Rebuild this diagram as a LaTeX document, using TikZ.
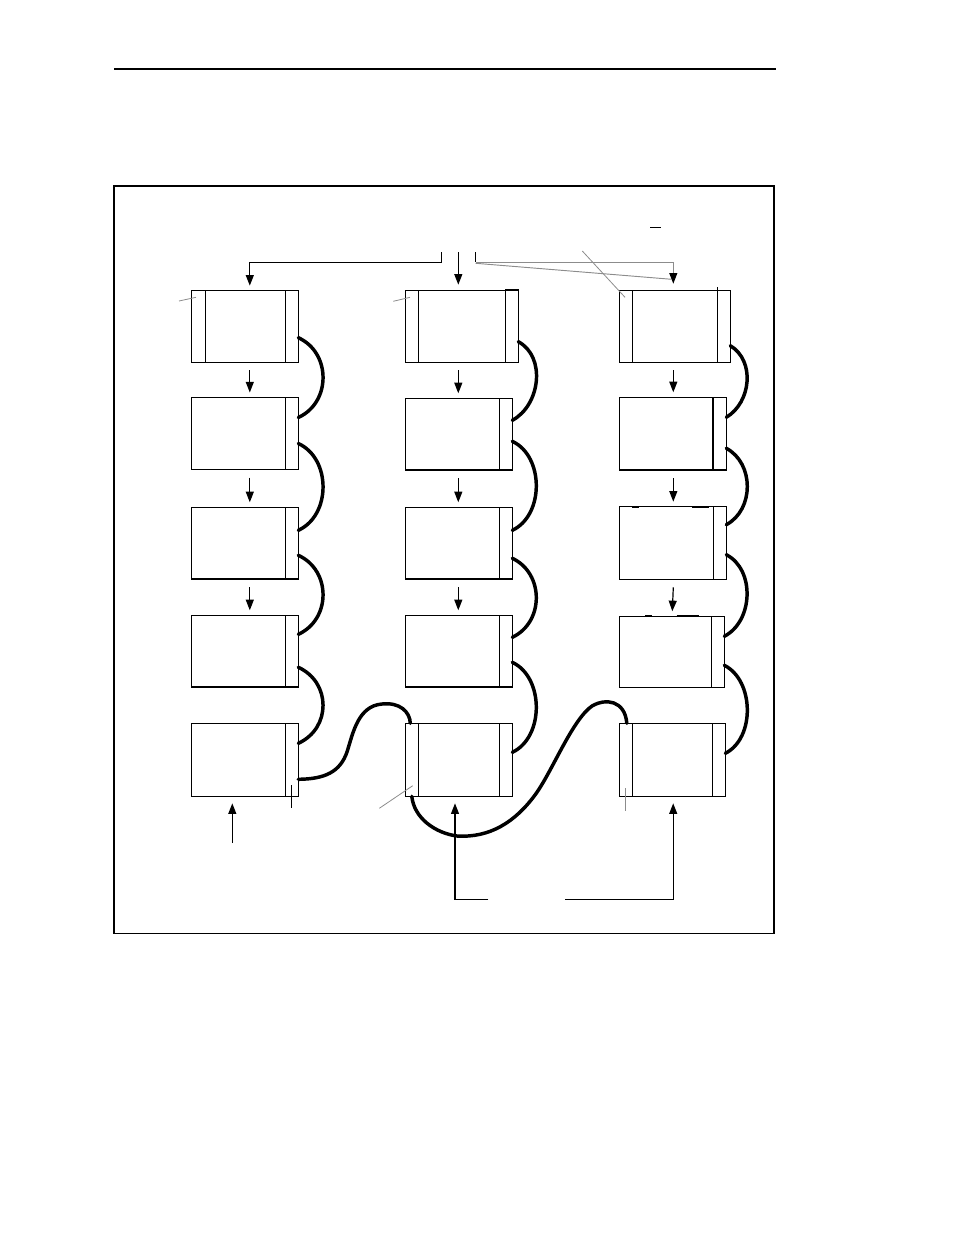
\documentclass[tikz,border=0pt]{standalone}
\usetikzlibrary{calc,fit,arrows.meta}
\begin{document}
\begin{tikzpicture}[x=0.75pt,y=-0.75pt,
  box/.style={draw, line width=0.9pt, inner sep=0pt, outer sep=0pt, rectangle},
  thinl/.style={line width=0.9pt},
  arr/.style={-{Triangle[length=8pt,width=6pt,color=black]}, line width=0.9pt},
  cable/.style={line width=2.6pt, line cap=round},
  lead/.style={line width=0.6pt, draw=black!45},
  grayl/.style={line width=0.7pt, draw=black!45}]
\useasboundingbox (0,0) rectangle (954,1235);
\newcommand\rstrip[2]{\draw[thinl] ($(#1.north east)+(-#2,0)$) -- ($(#1.south east)+(-#2,0)$);}
\newcommand\lstrip[2]{\draw[thinl] ($(#1.north west)+(#2,0)$) -- ($(#1.south west)+(#2,0)$);}
\newcommand\loopc[5]{\draw[cable] ($(#1.north east)+(0,#2)$) .. controls +(#5,15) and +(#5,-15) .. ($(#3.north east)+(0,#4)$);}
% page rule and frame
\draw[line width=0.8pt] (114,69) -- (776,69);
\draw[line width=1.1pt] (114,186) rectangle (774,933.3);
% column 1
\node[box, fit={(191.3,290.7) (298.3,362.3)}] (b11) {};
\node[box, fit={(191.3,397.5) (298.3,469.5)}] (b12) {};
\node[box, fit={(191.3,507.3) (298.3,579)}] (b13) {};
\node[box, fit={(191.3,615.3) (298.3,687)}] (b14) {};
\node[box, fit={(191.3,723.3) (298.3,796.3)}] (b15) {};
% column 2
\node[box, fit={(405.3,290.7) (518.3,362.3)}] (b21) {};
\node[box, fit={(405.3,398.3) (512.3,470)}] (b22) {};
\node[box, fit={(405.3,507.3) (512.3,579)}] (b23) {};
\node[box, fit={(405.3,615.3) (512.3,687)}] (b24) {};
\node[box, fit={(405.3,723.3) (512.3,796.3)}] (b25) {};
% column 3
\node[box, fit={(619.3,290.7) (730.3,362.3)}] (b31) {};
\node[box, fit={(619.3,397.3) (726.3,470)}] (b32) {};
\node[box, fit={(619.3,506.7) (726.3,579.3)}] (b33) {};
\node[box, fit={(619.3,616.3) (724.3,687.3)}] (b34) {};
\node[box, fit={(619.3,723.3) (725.3,796.3)}] (b35) {};
% strips
\lstrip{b11}{14} \rstrip{b11}{13}
\rstrip{b12}{13} \rstrip{b13}{13} \rstrip{b14}{13} \rstrip{b15}{13}
\lstrip{b21}{13}
\draw[thinl] (505.3,289.3) rectangle (518.3,362.3);
\rstrip{b22}{13} \rstrip{b23}{13} \rstrip{b24}{13}
\lstrip{b25}{13} \rstrip{b25}{13}
\lstrip{b31}{13}
\draw[thinl] (717.3,287) -- (717.3,362.3);
\draw[line width=1.7pt] ($(b32.north east)+(-13,0)$) -- ($(b32.south east)+(-13,0)$);
\rstrip{b33}{13} \rstrip{b34}{13}
\lstrip{b35}{13} \rstrip{b35}{13}
% small marks on box edges
\draw[line width=1.6pt] (632.3,506.7) -- (639,506.7) (692.3,506.7) -- (709,506.7);
\draw[line width=1.6pt] (645,616.3) -- (651.7,616.3) (676.7,616.3) -- (699,616.3);
\draw[line width=1.4pt] (238.3,469.5) -- (241.7,469.5);
% down arrows between boxes
\foreach \a/\b in {b11/b12,b12/b13,b13/b14}
  \draw[arr] ($(\a.south)+(5,8)$) -- ($(\b.north)+(5,-5)$);
\draw[arr] ($(b21.south)+(-3.5,8)$) -- ($(b22.north)+(-0.5,-5)$);
\foreach \a/\b in {b22/b23,b23/b24}
  \draw[arr] ($(\a.south)+(-0.5,8)$) -- ($(\b.north)+(-0.5,-5)$);
\draw[arr] ($(b31.south)+(-1.5,8)$) -- ($(b32.north)+(0.5,-5)$);
\foreach \a/\b in {b32/b33,b33/b34}
  \draw[arr] ($(\a.south)+(0.5,8)$) -- ($(\b.north)+(0.5,-5)$);
% top distribution
\coordinate (s1) at (441.3,252);
\coordinate (s2) at (458.3,252);
\coordinate (s3) at (475.7,252);
\draw[arr] (s1) -- ++(0,10.3) -| ($(b11.north)+(5,-5)$);
\draw[arr] (s2) -- ($(s2 |- b21.north)+(0,-6)$);
\draw[thinl] (s3) -- ++(0,10.3) coordinate (s3b);
\draw[grayl] (s3b) -- (673.3,262.3) coordinate (s3c);
\draw[grayl, -{Triangle[length=8pt,width=6pt,color=black]}] (s3c) -- ($(s3c |- b31.north)+(0,-7)$);
\draw[grayl] ($(s3b)+(0,1)$) -- (671.7,279.3);
\draw[line width=1.1pt] (650,227.3) -- (661,227.3);
% leader lines
\draw[lead] (179,301) -- (196,297.3);
\draw[lead] (393.3,301.3) -- (410,297.3);
\draw[lead] (582.3,251) -- (625,297.3);
\draw[lead] (379.3,808.3) -- (412.7,785.7);
\draw[lead] (625,788.3) -- (625,810.7);
\draw[thinl] (291.3,785) -- (291.3,808.3);
% cables
\loopc{b11}{47}{b12}{20}{33}
\loopc{b12}{46}{b13}{23}{33}
\loopc{b13}{48}{b14}{19}{33}
\loopc{b14}{52}{b15}{20}{33}
\loopc{b21}{51}{b22}{22}{28}
\loopc{b22}{43}{b23}{23}{32}
\loopc{b23}{51}{b24}{22}{32}
\loopc{b24}{47}{b25}{29}{32}
\loopc{b31}{55}{b32}{20}{25}
\loopc{b32}{51}{b33}{18}{28}
\loopc{b33}{48}{b34}{20}{29}
\loopc{b34}{49}{b35}{30}{30}
\draw[cable] ($(b15.north east)+(0,56)$) .. controls (325,779) and (340,772) .. (347,752)
  .. controls (353,733) and (358,706) .. (382,704)
  .. controls (400,702) and (410,712) .. ($(b25.north west)+(5,0)$);
\draw[cable] ($(b25.south west)+(6.5,0)$) .. controls (414,818) and (435,833) .. (457,836)
  .. controls (490,838) and (515,822) .. (535,795)
  .. controls (552,772) and (572,720) .. (592,706)
  .. controls (605,698) and (625,700) .. ($(b35.north west)+(7.5,0)$);
% bottom feeds
\coordinate (u1) at (232.3,843);
\draw[arr] (u1) -- ($(u1 |- b15.south)+(0,7)$);
\coordinate (f1) at (488.3,899.3);
\coordinate (f2) at (565,899.3);
\draw[arr] (f1) -| ($(b25.south)+(-3.8,7)$);
\draw[arr] (f2) -| ($(b35.south)+(0.9,7)$);
\end{tikzpicture}
\end{document}
